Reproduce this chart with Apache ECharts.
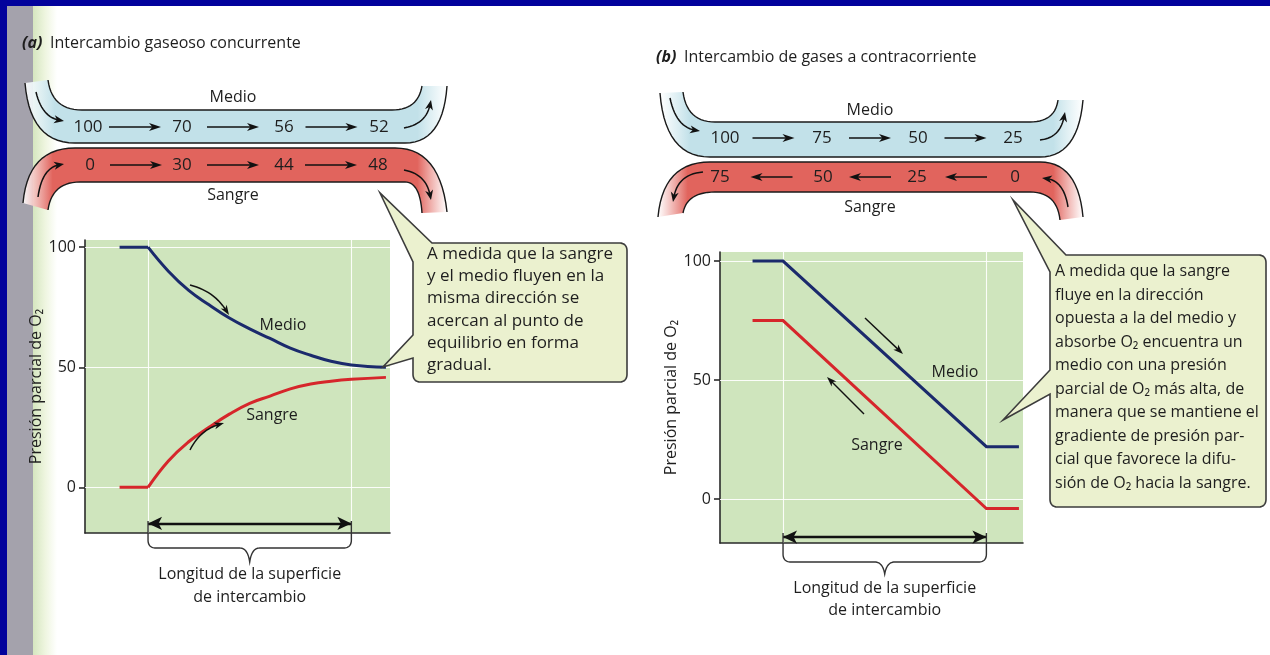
<!DOCTYPE html>
<html>
<head>
<meta charset="utf-8">
<script src="https://cdn.jsdelivr.net/npm/echarts@6/dist/echarts.min.js"></script>
<style>
  html, body { margin: 0; padding: 0; background: #ffffff; }
  #chart { width: 1270px; height: 655px; }
</style>
</head>
<body>
<div id="chart"></div>
<script>
// ---- data -------------------------------------------------------------
// (a) concurrent exchange: position along the surface (0..100 = exchange zone)
const posA    = [-14, 0, 10, 20, 30, 40, 50, 60, 70, 80, 90, 100, 117];
const medioA  = [100, 100, 90, 82, 76, 70.5, 66, 62, 58, 55, 52.5, 51, 50];
const sangreA = [0, 0, 11, 19, 25, 30.5, 35, 38, 41, 43, 44.2, 45, 45.8];
// (b) countercurrent exchange
const posB    = [-15, 0, 100, 116];
const medioB  = [100, 100, 22, 22];
const sangreB = [75, 75, -4, -4];
// partial pressures written along the tubes
const tubeMedioA  = [100, 70, 56, 52];
const tubeSangreA = [0, 30, 44, 48];
const tubeMedioB  = [100, 75, 50, 25];
const tubeSangreB = [75, 50, 25, 0];
// axis ticks and the exchange zone
const yTicks = [0, 50, 100];
const exchangeSpan = [0, 100];

// ---- styles -----------------------------------------------------------
const FONT = '"Open Sans", "Noto Sans", sans-serif';
const INK = '#1e1e1e';
const NAVY = '#1b2a6c';
const RED = '#d6262b';
const PLOT_BG = '#cfe5bd';
const AXIS = '#2a2a2a';

const pair = (xs, ys) => xs.map((x, i) => [x, ys[i]]);

function gridLines(idx) {
  return {
    type: 'line', xAxisIndex: idx, yAxisIndex: idx, silent: true, z: 1,
    data: [[exchangeSpan[0], yTicks[0]]], showSymbol: false,
    lineStyle: { opacity: 0 },
    markLine: {
      z: 1, silent: true, symbol: 'none', animation: false, label: { show: false },
      lineStyle: { color: 'rgba(255,255,255,0.9)', width: 1.1, type: 'solid' },
      emphasis: { disabled: true },
      data: [...yTicks.map(v => ({ yAxis: v })), ...exchangeSpan.map(v => ({ xAxis: v }))]
    }
  };
}
function spanArrow(idx, y) {
  return {
    type: 'line', xAxisIndex: idx, yAxisIndex: idx, silent: true, z: 6,
    data: [[exchangeSpan[0], y]], showSymbol: false, lineStyle: { opacity: 0 },
    markLine: {
      z: 6, silent: true, animation: false, label: { show: false },
      symbol: ['arrow', 'arrow'], symbolSize: [10, 14],
      lineStyle: { color: '#111', width: 2.4, type: 'solid' },
      emphasis: { disabled: true },
      data: [[{ coord: [exchangeSpan[0], y] }, { coord: [exchangeSpan[1], y] }]]
    }
  };
}
function curve(idx, points, color, smooth) {
  return {
    type: 'line', xAxisIndex: idx, yAxisIndex: idx, z: 3,
    data: points, showSymbol: false, silent: true,
    smooth: smooth ? 0.45 : false,
    lineStyle: { color, width: 3, cap: 'butt', join: 'miter' }
  };
}
function xAx(idx, min, max) {
  return {
    gridIndex: idx, type: 'value', min, max,
    axisLine: { show: true, onZero: false, lineStyle: { color: AXIS, width: 1.6 } },
    axisTick: { show: false }, axisLabel: { show: false }, splitLine: { show: false }
  };
}
function yAx(idx, min, max, gap) {
  return {
    gridIndex: idx, type: 'value', min, max,
    axisLine: { show: true, onZero: false, lineStyle: { color: AXIS, width: 1.6 } },
    axisTick: { show: true, length: 6, customValues: yTicks, lineStyle: { color: AXIS, width: 1.6 } },
    axisLabel: { customValues: yTicks, fontSize: 16, color: INK, fontFamily: FONT, margin: 9 },
    splitLine: { show: false },
    name: 'Presión parcial de O₂', nameLocation: 'middle', nameGap: gap,
    nameTextStyle: { fontSize: 16, color: INK, fontFamily: FONT }
  };
}

const ptsMA = pair(posA, medioA), ptsSA = pair(posA, sangreA);
const chart = echarts.init(document.getElementById('chart'), null, { renderer: 'canvas' });
chart.setOption({
  animation: false,
  backgroundColor: '#ffffff',
  grid: [
    { left: 85, top: 240, width: 305, height: 293, show: true, backgroundColor: PLOT_BG, borderWidth: 0 },
    { left: 720, top: 252, width: 303, height: 291, show: true, backgroundColor: PLOT_BG, borderWidth: 0 }
  ],
  xAxis: [xAx(0, -31, 119), xAx(1, -31, 118)],
  yAxis: [yAx(0, -19, 103, 31), yAx(1, -18.5, 103.8, 30)],
  series: [
    gridLines(0), gridLines(1),
    // flat lead-in, then the smooth exchange curve
    curve(0, ptsMA.slice(0, 2), NAVY, false),
    curve(0, ptsMA.slice(1), NAVY, true),
    curve(0, ptsSA.slice(0, 2), RED, false),
    curve(0, ptsSA.slice(1), RED, true),
    curve(1, pair(posB, medioB), NAVY, false),
    curve(1, pair(posB, sangreB), RED, false),
    spanArrow(0, -15), spanArrow(1, -16)
  ]
});

// ---- drawing helpers for the illustration -----------------------------
// turns a small M/L/Q/Z path string into a point list
function samplePath(d) {
  const tok = d.match(/[MLQZ]|-?\d*\.?\d+/g);
  const pts = []; let closed = false, i = 0, cmd = 'M';
  let cx = 0, cy = 0;
  while (i < tok.length) {
    if (/[MLQZ]/.test(tok[i])) { cmd = tok[i++]; if (cmd === 'Z') { closed = true; continue; } }
    if (cmd === 'M' || cmd === 'L') {
      cx = +tok[i++]; cy = +tok[i++]; pts.push([cx, cy]);
    } else if (cmd === 'Q') {
      const qx = +tok[i++], qy = +tok[i++], ex = +tok[i++], ey = +tok[i++];
      for (let k = 1; k <= 14; k++) {
        const t = k / 14, u = 1 - t;
        pts.push([u * u * cx + 2 * u * t * qx + t * t * ex, u * u * cy + 2 * u * t * qy + t * t * ey]);
      }
      cx = ex; cy = ey;
    } else { i++; }
  }
  return { pts, closed };
}
function pathEl(d, style, z = 5) {
  const { pts, closed } = samplePath(d);
  return { type: closed ? 'polygon' : 'polyline', silent: true, z, shape: { points: pts }, style };
}
function txt(x, y, s, o = {}) {
  return {
    type: 'text', x, y, silent: true, z: 20,
    style: {
      text: s, font: o.font || `${o.size || 16}px ${FONT}`, fill: o.fill || INK,
      textAlign: o.align || 'center', textVerticalAlign: o.valign || 'middle',
      lineHeight: o.lineHeight
    }
  };
}
function head(x, y, ang, len = 10, w = 4) {
  const c = Math.cos(ang), s = Math.sin(ang);
  const bx = x - c * len, by = y - s * len;
  const nx = x - c * len * 0.72, ny = y - s * len * 0.72;
  return {
    type: 'polygon', silent: true, z: 15,
    shape: { points: [[x, y], [bx - s * w, by + c * w], [nx, ny], [bx + s * w, by - c * w]] },
    style: { fill: '#111' }
  };
}
function straightArrow(x0, y0, x1, y1, lw = 1.6, len = 11, w = 4) {
  const a = Math.atan2(y1 - y0, x1 - x0);
  const ex = x1 - Math.cos(a) * len * 0.6, ey = y1 - Math.sin(a) * len * 0.6;
  return [
    { type: 'line', silent: true, z: 14, shape: { x1: x0, y1: y0, x2: ex, y2: ey }, style: { stroke: '#111', lineWidth: lw } },
    head(x1, y1, a, len, w)
  ];
}
function bentArrow(x0, y0, cx, cy, x1, y1, lw = 1.5, len = 10, w = 4) {
  const a = Math.atan2(y1 - cy, x1 - cx);
  return [
    pathEl(`M${x0},${y0} Q${cx},${cy} ${x1 - Math.cos(a) * 5},${y1 - Math.sin(a) * 5}`,
      { stroke: '#111', lineWidth: lw, fill: null }, 14),
    head(x1, y1, a, len, w)
  ];
}
function tube(top, bottom, fillD, color) {
  const grad = new echarts.graphic.LinearGradient(0, 0, 1, 0, [
    { offset: 0, color: 'rgba(255,255,255,0.9)' },
    { offset: 0.07, color },
    { offset: 0.93, color },
    { offset: 1, color: 'rgba(255,255,255,0.9)' }
  ]);
  return [
    pathEl(fillD, { fill: grad, stroke: null }, 4),
    pathEl(top, { stroke: '#1a1a1a', lineWidth: 1.4, fill: null }, 6),
    pathEl(bottom, { stroke: '#1a1a1a', lineWidth: 1.4, fill: null }, 6)
  ];
}
function tubeValues(xs, vals, y, dir, half) {
  const out = [];
  vals.forEach((v, i) => out.push(txt(xs[i], y, String(v), { size: 17 })));
  for (let i = 0; i < xs.length - 1; i++) {
    const m = (xs[i] + xs[i + 1]) / 2;
    out.push(...(dir > 0 ? straightArrow(m - half, y, m + half, y, 1.6, 12, 4)
                         : straightArrow(m + half, y, m - half, y, 1.6, 12, 4)));
  }
  return out;
}
function brace(x0, x1, yt, yh, ytip) {
  const xc = (x0 + x1) / 2;
  return pathEl(
    `M${x0},${yt} L${x0},${yh - 8} Q${x0},${yh} ${x0 + 8},${yh} L${xc - 10},${yh} ` +
    `Q${xc - 2},${yh} ${xc},${ytip} Q${xc + 2},${yh} ${xc + 10},${yh} ` +
    `L${x1 - 8},${yh} Q${x1},${yh} ${x1},${yh - 8} L${x1},${yt}`,
    { stroke: '#333', lineWidth: 1.4, fill: null }, 8);
}

// ---- page furniture, tubes, callouts ----------------------------------
const g = [];
// page edge
g.push({ type: 'rect', silent: true, z: 30, shape: { x: 0, y: 0, width: 1270, height: 6 }, style: { fill: '#02029c' } });
g.push({ type: 'rect', silent: true, z: 30, shape: { x: 0, y: 0, width: 7, height: 655 }, style: { fill: '#02029c' } });
g.push({ type: 'rect', silent: true, z: -5, shape: { x: 7, y: 6, width: 26, height: 649 }, style: { fill: '#a4a2ac' } });
g.push({ type: 'rect', silent: true, z: -5, shape: { x: 33, y: 6, width: 24, height: 649 },
  style: { fill: new echarts.graphic.LinearGradient(0, 0, 1, 0, [
    { offset: 0, color: '#d5e6bf' }, { offset: 0.5, color: '#eef5df' }, { offset: 1, color: '#ffffff' }]) } });

// titles
g.push(txt(22, 43, '(a)', { font: `italic bold 16px ${FONT}`, align: 'left' }));
g.push(txt(50, 43, 'Intercambio gaseoso concurrente', { align: 'left' }));
g.push(txt(656, 57, '(b)', { font: `italic bold 16px ${FONT}`, align: 'left' }));
g.push(txt(684, 57, 'Intercambio de gases a contracorriente', { align: 'left' }));

// (a) tubes
g.push(...tube(
  'M48,80 Q52,110 82,110 L392,110 Q418,110 422,86',
  'M25,83 Q30,143 75,143 L405,143 Q443,143 447,86',
  'M48,80 Q52,110 82,110 L392,110 Q418,110 422,86 L447,86 Q443,143 405,143 L75,143 Q30,143 25,83 Z',
  '#c2e1e9'));
g.push(...tube(
  'M23,203 Q28,148 75,148 L395,148 Q440,148 447,212',
  'M48,210 Q52,182 80,182 L405,182 Q420,182 422,213',
  'M23,203 Q28,148 75,148 L395,148 Q440,148 447,212 L422,213 Q420,182 405,182 L80,182 Q52,182 48,210 Z',
  '#e1645d'));
g.push(txt(233, 97, 'Medio'), txt(233, 195, 'Sangre'));
g.push(...tubeValues([88, 182, 284, 379], tubeMedioA, 127, 1, 26));
g.push(...tubeValues([90, 182, 284, 378], tubeSangreA, 165, 1, 26));
g.push(...bentArrow(36, 92, 42, 117, 64, 121));
g.push(...bentArrow(404, 128, 426, 124, 431, 100));
g.push(...bentArrow(38, 197, 42, 168, 64, 164));
g.push(...bentArrow(404, 170, 426, 174, 431, 200));

// (b) tubes
g.push(...tube(
  'M683,92 Q687,122 715,122 L1030,122 Q1055,122 1058,100',
  'M660,93 Q665,157 710,157 L1040,157 Q1078,157 1083,100',
  'M683,92 Q687,122 715,122 L1030,122 Q1055,122 1058,100 L1083,100 Q1078,157 1040,157 L710,157 Q665,157 660,93 Z',
  '#c2e1e9'));
g.push(...tube(
  'M658,217 Q663,162 710,162 L1040,162 Q1078,162 1083,217',
  'M683,213 Q687,192 715,192 L1030,192 Q1057,192 1060,220',
  'M658,217 Q663,162 710,162 L1040,162 Q1078,162 1083,217 L1060,220 Q1057,192 1030,192 L715,192 Q687,192 683,213 Z',
  '#e1645d'));
g.push(txt(870, 110, 'Medio'), txt(870, 207, 'Sangre'));
g.push(...tubeValues([725, 822, 918, 1013], tubeMedioB, 138, 1, 21));
g.push(...tubeValues([720, 823, 917, 1015], tubeSangreB, 177, -1, 21));
g.push(...bentArrow(670, 98, 676, 127, 700, 131));
g.push(...bentArrow(1040, 140, 1060, 138, 1065, 112));
g.push(...bentArrow(703, 172, 678, 174, 673, 202));
g.push(...bentArrow(1068, 207, 1064, 181, 1042, 178));

// callouts
const CALLOUT = { fill: '#ebf1cf', stroke: '#3c3c3c', lineWidth: 1.6 };
g.push(pathEl('M432,243 L619,243 Q627,243 627,251 L627,374 Q627,382 619,382 L421,382 Q413,382 413,374 ' +
  'L413,358 L383,367 L413,335 L413,262 L380,193 Z', CALLOUT, 12));
g.push(txt(427, 243, [
  'A medida que la sangre', 'y el medio fluyen en la', 'misma dirección se',
  'acercan al punto de', 'equilibrio en forma', 'gradual.'].join('\n'),
  { size: 17, align: 'left', valign: 'top', lineHeight: 22.2 }));
g.push(pathEl('M1066,255 L1258,255 Q1266,255 1266,263 L1266,499 Q1266,507 1258,507 L1058,507 Q1050,507 1050,499 ' +
  'L1050,394 L1003,420 L1050,370 L1050,272 L1013,200 Z', CALLOUT, 12));
g.push(txt(1055, 260, [
  'A medida que la sangre', 'fluye en la dirección', 'opuesta a la del medio y',
  'absorbe O₂ encuentra un', 'medio con una presión', 'parcial de O₂ más alta, de',
  'manera que se mantiene el', 'gradiente de presión par-', 'cial que favorece la difu-',
  'sión de O₂ hacia la sangre.'].join('\n'),
  { size: 16, align: 'left', valign: 'top', lineHeight: 23.5 }));

// in-plot labels and flow hints
g.push(txt(283, 325, 'Medio'), txt(272, 415, 'Sangre'));
g.push(...bentArrow(190, 285, 214, 291, 229, 315, 1.5, 10, 3.5));
g.push(...bentArrow(190, 450, 200, 430, 224, 423, 1.5, 10, 3.5));
g.push(txt(955, 372, 'Medio'), txt(877, 445, 'Sangre'));
g.push(...straightArrow(865, 318, 903, 354, 1.4, 10, 3.5));
g.push(...straightArrow(864, 414, 827, 377, 1.4, 10, 3.5));

// braces under the exchange zone, placed from the axis scale
const [ax0] = chart.convertToPixel({ gridIndex: 0 }, [exchangeSpan[0], 0]);
const [ax1] = chart.convertToPixel({ gridIndex: 0 }, [exchangeSpan[1], 0]);
const [bx0] = chart.convertToPixel({ gridIndex: 1 }, [exchangeSpan[0], 0]);
const [bx1] = chart.convertToPixel({ gridIndex: 1 }, [exchangeSpan[1], 0]);
g.push(brace(ax0, ax1, 521, 548, 562));
g.push(brace(bx0, bx1, 533, 562, 574));
g.push(txt((ax0 + ax1) / 2, 574, 'Longitud de la superficie'), txt((ax0 + ax1) / 2, 597, 'de intercambio'));
g.push(txt((bx0 + bx1) / 2, 588, 'Longitud de la superficie'), txt((bx0 + bx1) / 2, 610, 'de intercambio'));

chart.setOption({ graphic: { elements: g } });
</script>
</body>
</html>
